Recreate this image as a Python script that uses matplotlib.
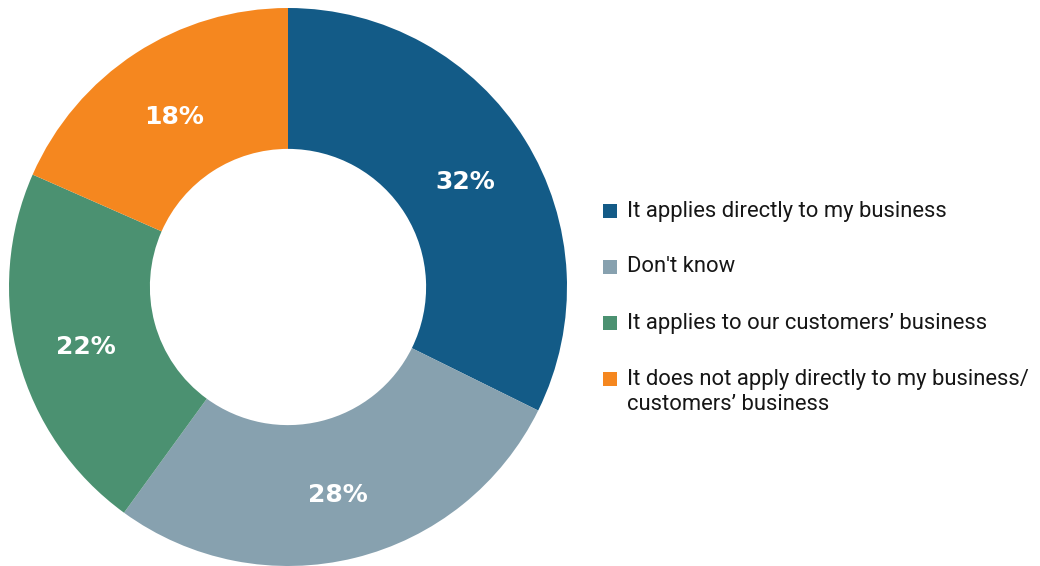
import matplotlib.pyplot as plt
from matplotlib.patches import Rectangle
from matplotlib.transforms import offset_copy

labels = ["It applies directly to my business",
          "Don't know",
          "It applies to our customers\u2019 business",
          "It does not apply directly to my business/\ncustomers\u2019 business"]
values = [32.3, 27.7, 21.6, 18.4]
colors = ["#135B87", "#87A1AF", "#4B9171", "#F5871F"]

fig = plt.figure(figsize=(10.4, 5.66), dpi=100)
W, H = 1040, 566

# donut: center (288, 287) px, radius 279 px
cx, cy, r = 288, 287, 279
ax = fig.add_axes([(cx - r) / W, (H - cy - r) / H, 2 * r / W, 2 * r / H])
wedges, texts, autotexts = ax.pie(
    values, colors=colors, startangle=90, counterclock=False, radius=1,
    wedgeprops=dict(width=0.505, linewidth=0),
    autopct=lambda p: f"{p:.0f}%", pctdistance=0.75,
    textprops=dict(color="white", fontsize=18, fontweight="bold", family="DejaVu Sans"))
for t in autotexts:
    t.set_transform(offset_copy(t.get_transform(), fig=fig, x=0, y=-5, units="dots"))
ax.set_xlim(-1, 1)
ax.set_ylim(-1, 1)
ax.set_aspect("equal")
ax.axis("off")

# legend
rows_y = [211, 267, 323, 379]
for lab, col, y in zip(labels, colors, rows_y):
    fig.patches.append(Rectangle((603 / W, 1 - (y + 7) / H), 14 / W, 14 / H,
                                 transform=fig.transFigure, facecolor=col, edgecolor="none"))
    fig.text(627 / W, 1 - y / H, lab, fontsize=15.8, family="Roboto", color="#161616",
             va="top" if "\n" in lab else "center", linespacing=1.24)

fig.texts[-1].set_position((627 / W, 1 - 369 / H))

plt.savefig("out.png", dpi=100)
